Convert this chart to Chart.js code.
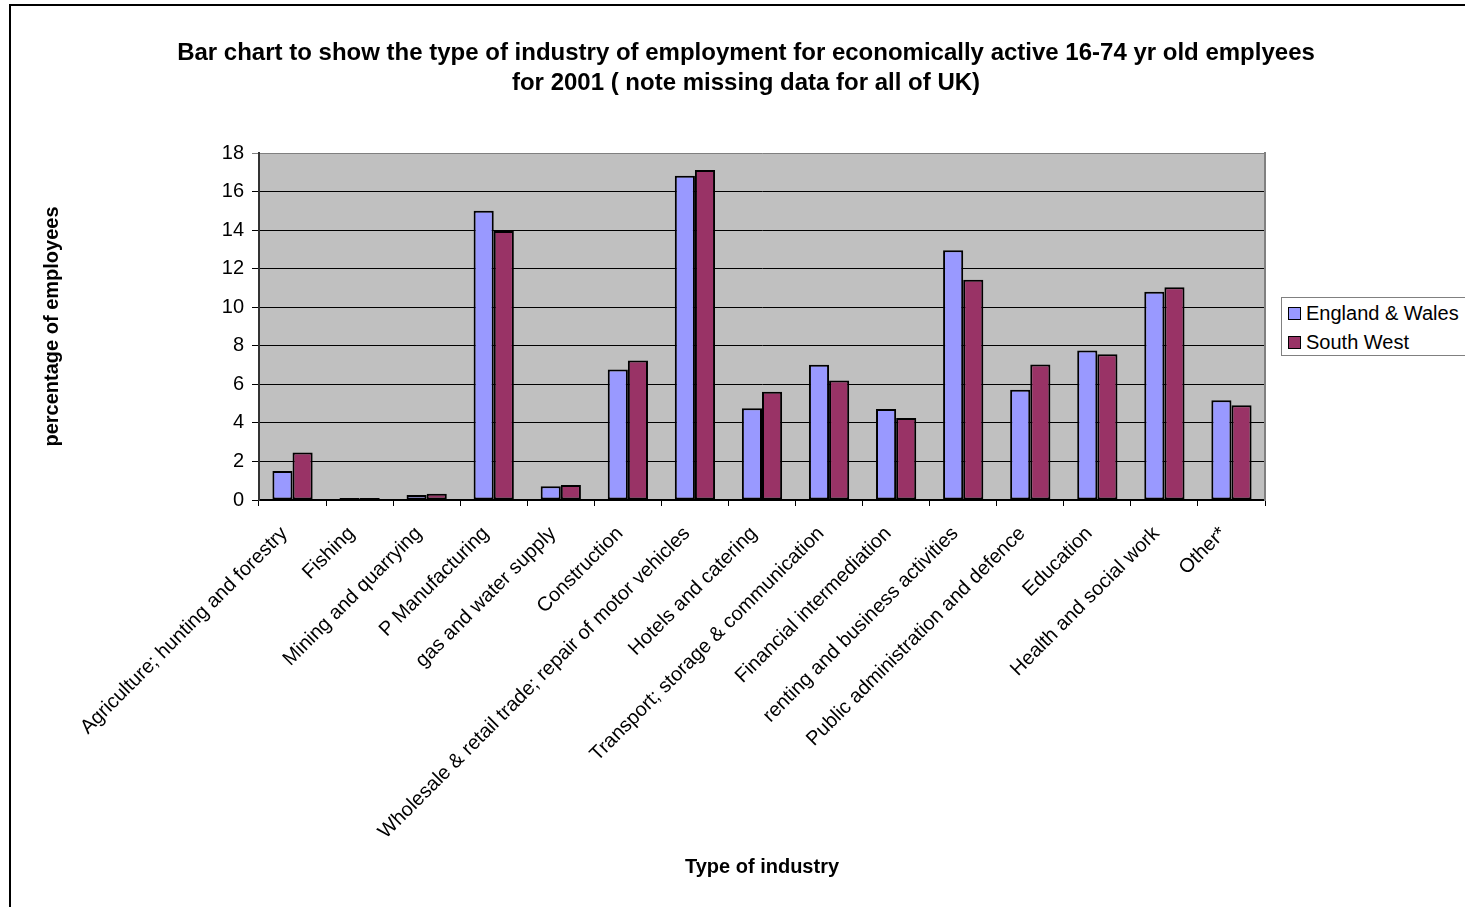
<!DOCTYPE html>
<html>
<head>
<meta charset="utf-8">
<script src="https://cdn.jsdelivr.net/npm/chart.js@4.4.1/dist/chart.umd.min.js"></script>
<style>
    body { margin: 0; background: #fff; overflow: hidden; font-family: "Liberation Sans", Arial, sans-serif; }
    #wrap { position: absolute; left: 0; top: 0; width: 1492px; height: 930px; }
    #frame { position: absolute; left: 9px; top: 4px; width: 1600px; height: 1000px;
             border-left: 2px solid #000; border-top: 2px solid #000; pointer-events: none; }
    #legend { position: absolute; left: 1281px; top: 297px; width: 200px; height: 57px;
              border: 1px solid #808080; background: #fff; font-size: 20px; color: #000; }
    .item { position: absolute; left: 6px; height: 24px; line-height: 24px; white-space: nowrap; }
    .swatch { display: inline-block; width: 11px; height: 11px; border: 1px solid #000;
              margin-right: 5px; vertical-align: 0px; }
</style>
</head>
<body>
<div id="wrap"><canvas id="chart" width="1492" height="930"></canvas></div>
<div id="frame"></div>
<div id="legend">
    <div class="item" style="top:3px"><span class="swatch" style="background:#9999FF"></span>England &amp; Wales</div>
    <div class="item" style="top:32px"><span class="swatch" style="background:#993366"></span>South West</div>
</div>
<script>
// Industry categories (x axis)
const industries = [
    'Agriculture; hunting and forestry',
    'Fishing',
    'Mining and quarrying',
    'P Manufacturing',
    'gas and water supply',
    'Construction',
    'Wholesale & retail trade; repair of motor vehicles',
    'Hotels and catering',
    'Transport; storage & communication',
    'Financial intermediation',
    'renting and business activities',
    'Public administration and defence',
    'Education',
    'Health and social work',
    'Other*'
];

// Percentage of employees
const englandWales = [1.5, 0.05, 0.26, 15.0, 0.71, 6.77, 16.82, 4.76, 7.01, 4.72, 12.96, 5.72, 7.75, 10.8, 5.17];
const southWest = [2.47, 0.08, 0.33, 13.96, 0.78, 7.23, 17.12, 5.61, 6.2, 4.26, 11.42, 7.03, 7.56, 11.04, 4.91];

const yMin = 0;
const yMax = 18;
const yStep = 2;

const FONT = '"Liberation Sans", Arial, sans-serif';

// grey plot area background
const plotBackground = {
    id: 'plotBackground',
    beforeDraw(chart) {
        const { ctx, chartArea } = chart;
        ctx.save();
        ctx.fillStyle = '#C0C0C0';
        ctx.fillRect(chartArea.left, chartArea.top, chartArea.right - chartArea.left, chartArea.bottom - chartArea.top);
        ctx.restore();
    }
};

const ctx = document.getElementById('chart').getContext('2d');
const chart = new Chart(ctx, {
    type: 'bar',
    data: {
        labels: industries,
        datasets: [
            {
                label: 'England & Wales',
                data: englandWales,
                backgroundColor: '#9999FF',
                borderColor: '#000000',
                borderWidth: 2,
                borderSkipped: false,
                minBarLength: 2
            },
            {
                label: 'South West',
                data: southWest,
                backgroundColor: '#993366',
                borderColor: '#000000',
                borderWidth: 2,
                borderSkipped: false,
                minBarLength: 2
            }
        ]
    },
    options: {
        responsive: false,
        animation: false,
        categoryPercentage: 0.6,
        barPercentage: 1.0,
        layout: { padding: { left: 0, right: 0, top: 0, bottom: 0 } },
        plugins: {
            legend: { display: false },
            tooltip: { enabled: false },
            title: {
                display: true,
                text: [
                    'Bar chart to show the type of industry of employment for economically active 16-74 yr old emplyees',
                    'for 2001 ( note missing data for all of UK)'
                ],
                color: '#000',
                font: { family: FONT, size: 24, weight: 'bold', lineHeight: 30 / 24 },
                padding: { top: 38, bottom: 55 }
            }
        },
        scales: {
            x: {
                grid: {
                    display: true,
                    drawOnChartArea: false,
                    drawTicks: true,
                    tickLength: 6,
                    color: '#000'
                },
                border: { display: true, color: '#000', width: 2 },
                ticks: {
                    autoSkip: false,
                    maxRotation: 45,
                    minRotation: 45,
                    padding: 16,
                    labelOffset: -8,
                    color: '#000',
                    font: { family: FONT, size: 20 }
                },
                title: {
                    display: true,
                    text: 'Type of industry',
                    color: '#000',
                    font: { family: FONT, size: 20, weight: 'bold' },
                    padding: { top: 4, bottom: 51 }
                },
                afterFit(scale) { scale.height = 430; }
            },
            y: {
                min: yMin,
                max: yMax,
                ticks: {
                    stepSize: yStep,
                    padding: 8,
                    color: '#000',
                    font: { family: FONT, size: 20 }
                },
                grid: {
                    color: (c) => (c.tick && c.tick.value === yMax ? '#808080' : '#000'),
                    lineWidth: 1,
                    tickLength: 7,
                    drawTicks: true
                },
                border: { display: true, color: '#333', width: 2 },
                title: {
                    display: true,
                    text: 'percentage of employees',
                    color: '#000',
                    font: { family: FONT, size: 20, weight: 'bold' },
                    padding: { top: 40, bottom: 0 }
                },
                afterFit(scale) { scale.width = 259; }
            },
            // empty right axis: keeps room for the legend and draws the plot's right edge
            yRight: {
                position: 'right',
                min: yMin,
                max: yMax,
                ticks: { display: false },
                grid: { display: false, drawTicks: false },
                border: { display: true, color: '#808080', width: 2 },
                afterFit(scale) { scale.width = 227; }
            }
        }
    },
    plugins: [plotBackground]
});
</script>
</body>
</html>
